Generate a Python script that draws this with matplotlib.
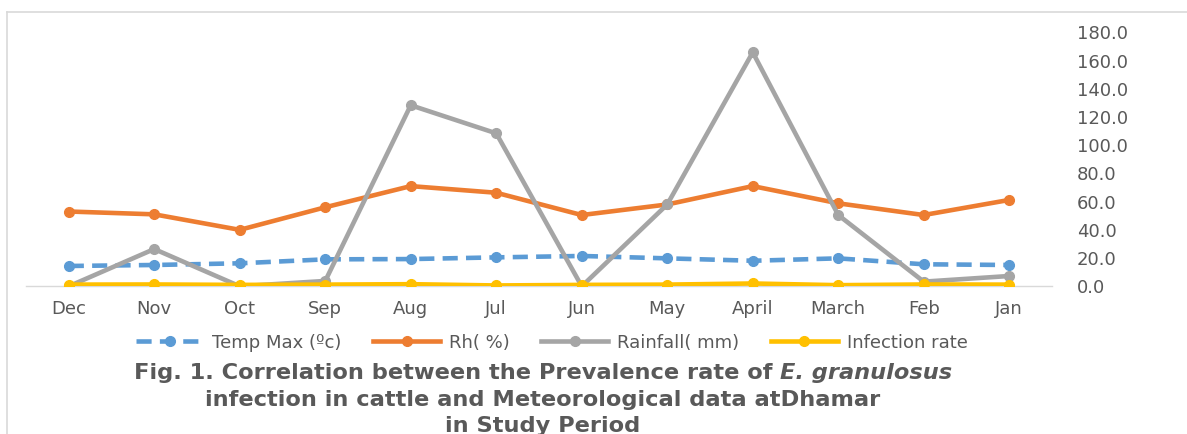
import matplotlib
matplotlib.use("Agg")
import matplotlib.pyplot as plt
from matplotlib.lines import Line2D

months = ["Dec", "Nov", "Oct", "Sep", "Aug", "Jul", "Jun", "May", "April", "March", "Feb", "Jan"]
temp_max = [14.4, 15.1, 16.3, 19.1, 19.3, 20.5, 21.5, 19.8, 18.1, 19.8, 15.6, 15.1]
rh = [53.0, 51.0, 40.0, 56.0, 71.0, 66.3, 50.5, 58.0, 71.0, 58.8, 50.5, 61.2]
rainfall = [0.0, 26.4, 0.0, 3.8, 128.3, 108.4, 0.0, 58.0, 165.8, 50.5, 3.3, 7.3]
infection = [1.2, 1.3, 1.0, 1.2, 1.5, 0.6, 1.0, 1.2, 2.0, 0.8, 1.3, 1.2]
yticks = [0, 20, 40, 60, 80, 100, 120, 140, 160, 180]
series_labels = ["Temp Max (ºc)", "Rh( %)", "Rainfall( mm)", "Infection rate"]

W, H = 1187, 434
fig = plt.figure(figsize=(W / 100, H / 100), dpi=100)
FONT = "DejaVu Sans"
TXT = "#595959"
TFS = 13

ax = fig.add_axes([26 / W, 1 - 286.3 / H, (1052 - 26) / W, (286.3 - 32.3) / H])
x = list(range(len(months)))
lw = 3.3
ms = 7.0
ax.plot(x, temp_max, color="#5B9BD5", lw=lw, ls=(0, (3.3, 1.8)), marker="o", ms=ms, label=series_labels[0], zorder=3)
ax.plot(x, rh, color="#ED7D31", lw=lw, marker="o", ms=ms, label=series_labels[1], zorder=3)
ax.plot(x, rainfall, color="#A5A5A5", lw=lw, marker="o", ms=ms, label=series_labels[2], zorder=3)
ax.plot(x, infection, color="#FFC000", lw=lw, marker="o", ms=ms, label=series_labels[3], zorder=4)

ax.set_xlim(-0.5, len(months) - 0.5)
ax.set_ylim(0, 180)
ax.set_xticks(x)
ax.set_xticklabels(months, fontsize=TFS, color=TXT, family=FONT)
ax.yaxis.tick_right()
ax.set_yticks(yticks)
ax.set_yticklabels([f"{v:.1f}" for v in yticks], fontsize=TFS, color=TXT, family=FONT, ha="left")
ax.tick_params(axis="both", length=0)
ax.tick_params(axis="y", pad=18)
ax.tick_params(axis="x", pad=10)
for s in ["top", "left", "right"]:
    ax.spines[s].set_visible(False)
ax.spines["bottom"].set_color("#D9D9D9")
ax.spines["bottom"].set_linewidth(1.0)

# chart border (partially visible)
fig.add_artist(Line2D([7 / W, 1.0], [1 - 12 / H, 1 - 12 / H], transform=fig.transFigure, color="#D9D9D9", lw=1.2))
fig.add_artist(Line2D([7 / W, 7 / W], [0, 1 - 12 / H], transform=fig.transFigure, color="#D9D9D9", lw=1.2))

leg = fig.legend(loc="center", bbox_to_anchor=(552 / W, 1 - 342.7 / H), ncol=4, frameon=False,
                 prop={"family": FONT, "size": TFS}, handlelength=3.7, handletextpad=0.5,
                 columnspacing=1.75, labelcolor=TXT)

# Caption with italic part, sized to the reference width
renderer = fig.canvas.get_renderer()
cx = 543 / W
part1 = "Fig. 1. Correlation between the Prevalence rate of "
part2 = "E. granulosus"
base = 14.0
kw = dict(fontweight="bold", color=TXT, family=FONT, va="center")
p1 = fig.text(0, 0, part1, fontsize=base, **kw)
p2 = fig.text(0, 0, part2, fontsize=base, style="italic", **kw)
wtot = p1.get_window_extent(renderer).width + p2.get_window_extent(renderer).width
fs = base * 820 / wtot
p1.set_fontsize(fs)
p2.set_fontsize(fs)
w1 = p1.get_window_extent(renderer).width
w2 = p2.get_window_extent(renderer).width
y1 = 1 - 373 / H
start = cx * W - (w1 + w2) / 2
p1.set_position((start / W, y1))
p2.set_position(((start + w1) / W, y1))
fig.text(cx, 1 - 400 / H, "infection in cattle and Meteorological data atDhamar", ha="center", fontsize=fs, **kw)
fig.text(cx, 1 - 426 / H, "in Study Period", ha="center", fontsize=fs, **kw)

fig.savefig("out.png", dpi=100)
